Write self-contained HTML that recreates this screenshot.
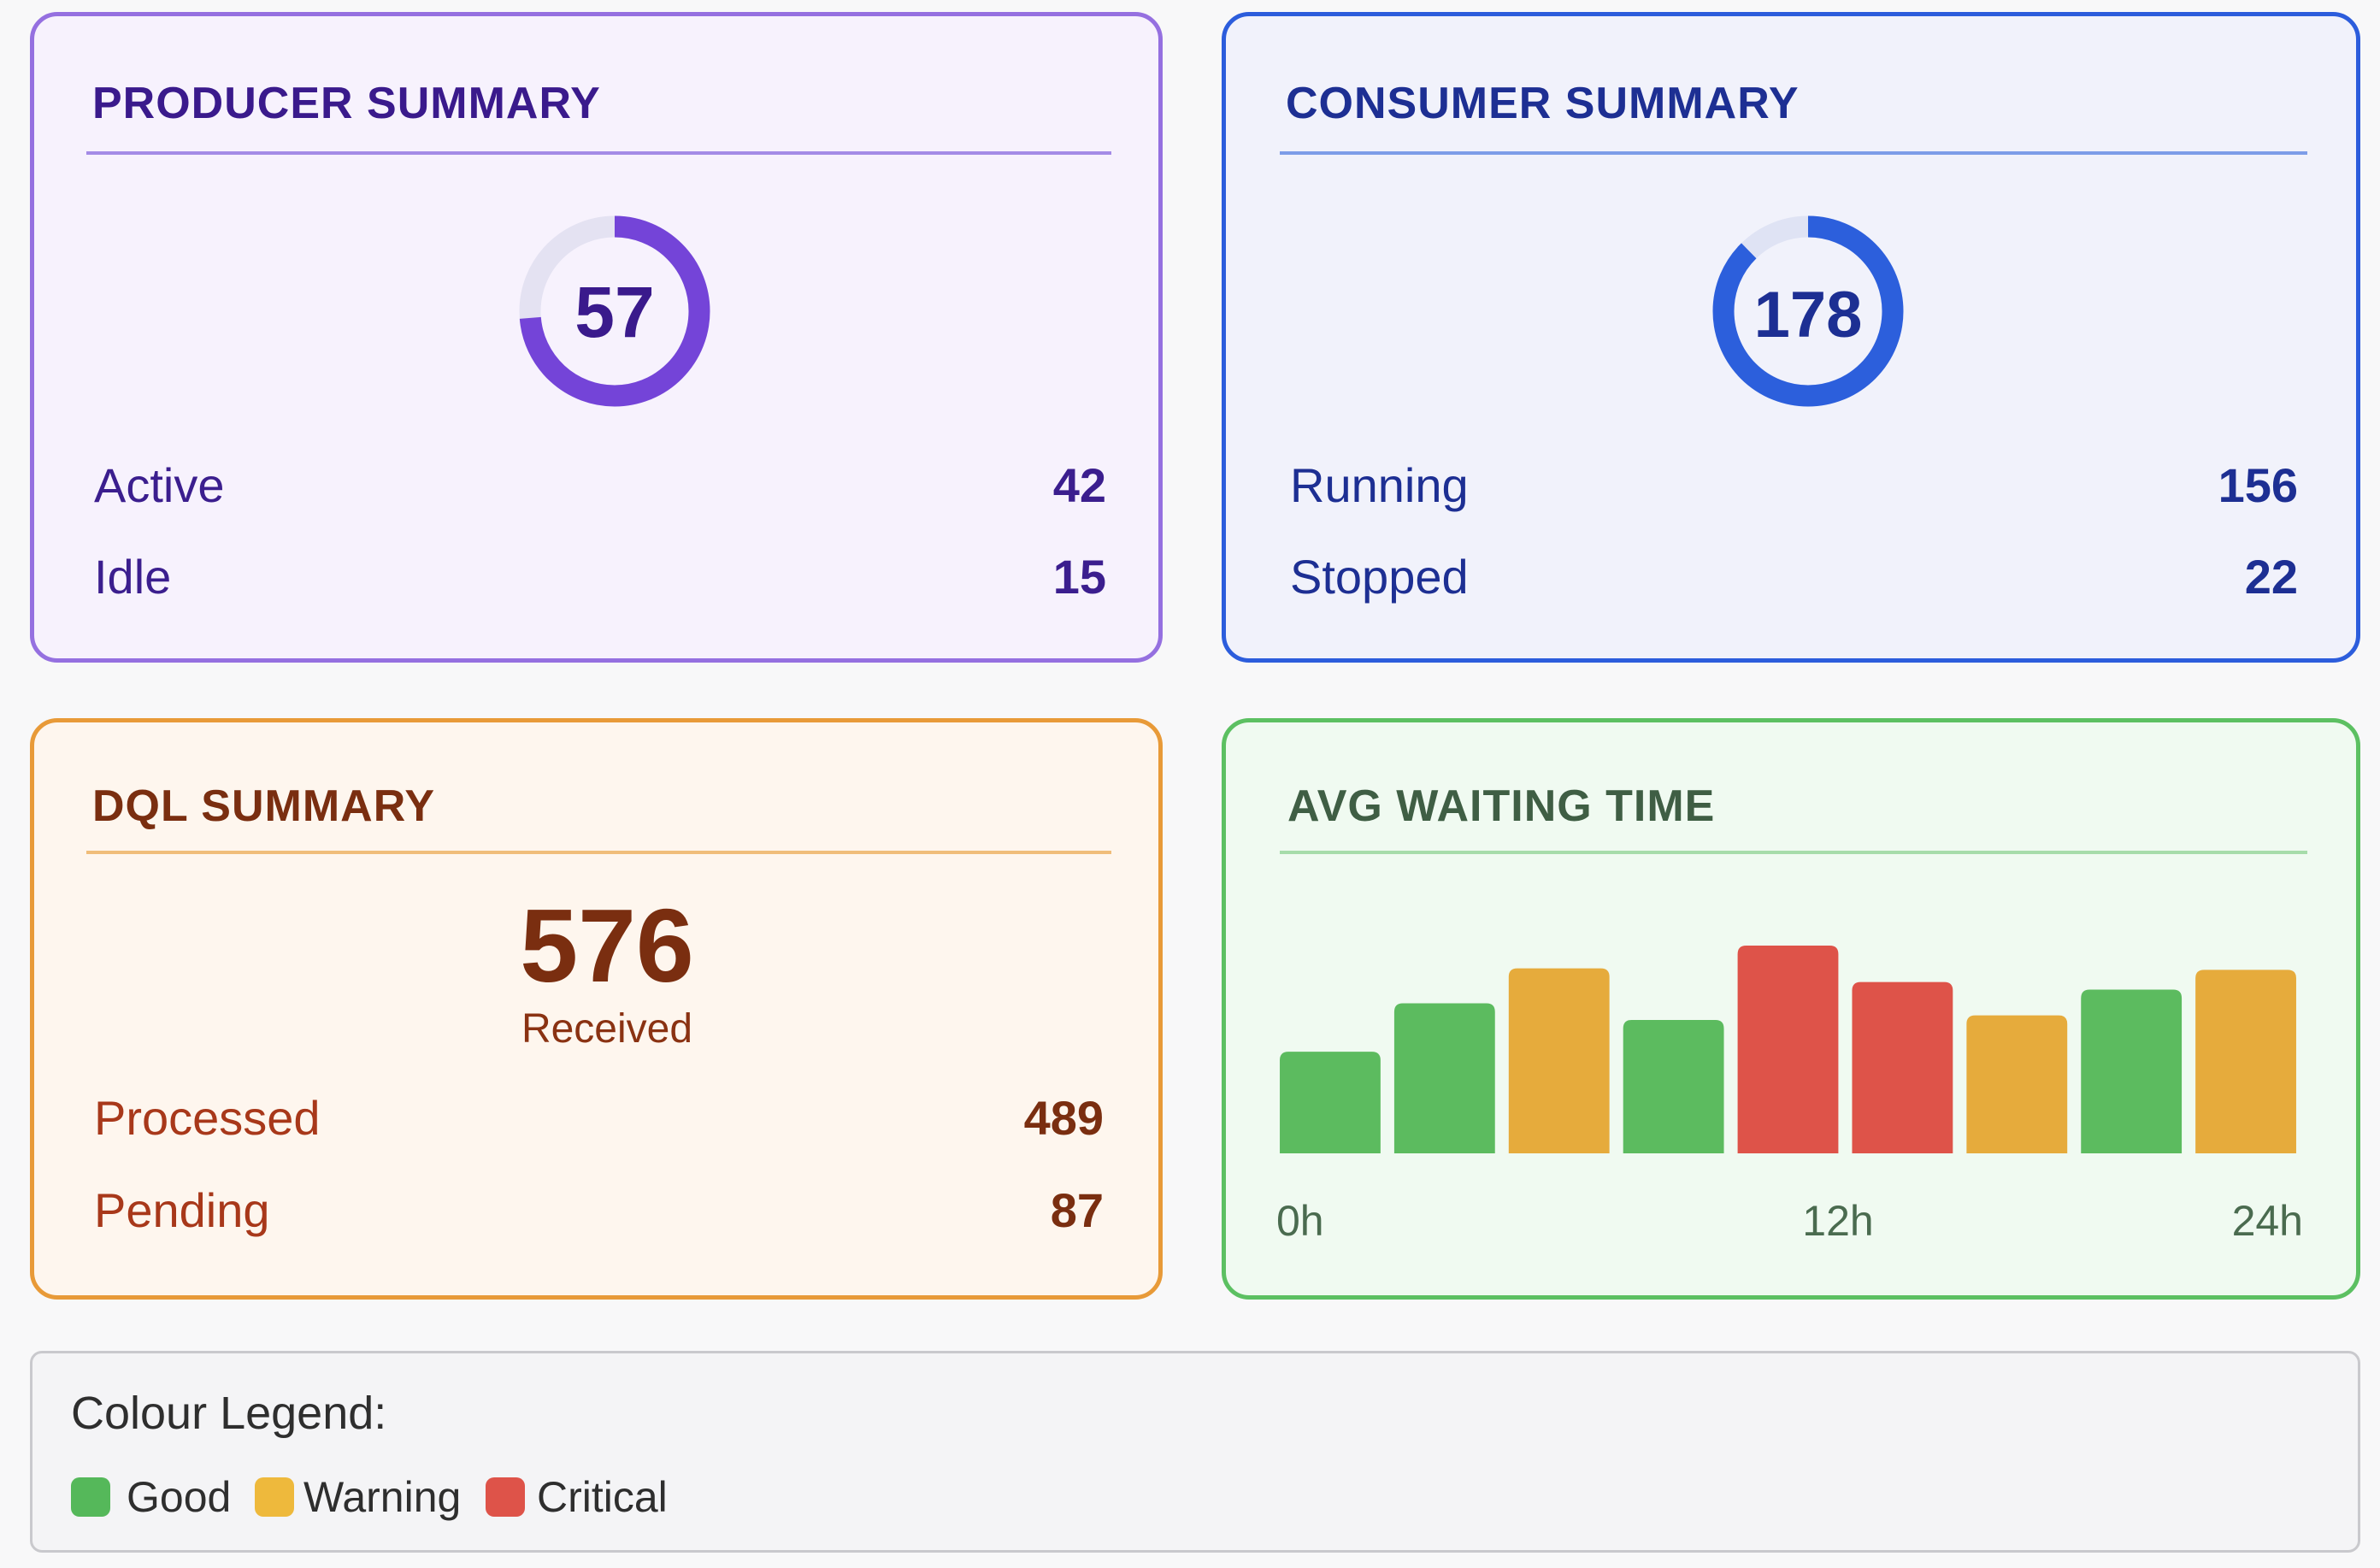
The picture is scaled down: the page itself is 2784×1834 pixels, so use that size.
<!DOCTYPE html>
<html><head><meta charset="utf-8"><style>
body{margin:0;width:2784px;height:1834px;background:#f8f8f9;font-family:"Liberation Sans",sans-serif;position:relative;overflow:hidden}
.card{position:absolute;box-sizing:border-box;border:5px solid;border-radius:32px}
.t{position:absolute;font-weight:bold;font-size:52px;letter-spacing:1px;line-height:1}
.div{position:absolute;height:4px}
.lab{position:absolute;font-size:56px;line-height:1}
.val{position:absolute;font-size:56px;font-weight:bold;line-height:1;text-align:right}
</style></head><body>
<div class="card" style="left:35px;top:14px;width:1325px;height:761px;background:#f7f2fd;border-color:#9570e0"></div>
<div class="t" style="left:108px;top:95px;color:#3a1a8c">PRODUCER SUMMARY</div>
<div class="div" style="left:101px;top:177px;width:1199px;background:#a48be6"></div>
<svg style="position:absolute;left:599px;top:244px" width="240" height="240">
<circle cx="120" cy="120" r="99" fill="none" stroke="#e4e2f2" stroke-width="25"/>
<circle cx="120" cy="120" r="99" fill="none" stroke="#7444d8" stroke-width="25" stroke-dasharray="458.4 622" transform="rotate(-90 120 120)"/>
<text x="120" y="150" text-anchor="middle" font-family="Liberation Sans" font-weight="bold" font-size="84" fill="#3a1a8c">57</text></svg>
<div class="lab" style="left:110px;top:540px;color:#3b1e8e">Active</div>
<div class="val" style="right:1490px;top:540px;color:#3b1e8e">42</div>
<div class="lab" style="left:110px;top:647px;color:#3b1e8e">Idle</div>
<div class="val" style="right:1490px;top:647px;color:#3b1e8e">15</div>

<div class="card" style="left:1429px;top:14px;width:1332px;height:761px;background:#f1f2fb;border-color:#2c5ddc"></div>
<div class="t" style="left:1504px;top:95px;color:#1d2f93">CONSUMER SUMMARY</div>
<div class="div" style="left:1497px;top:177px;width:1202px;background:#7d9de8"></div>
<svg style="position:absolute;left:1995px;top:244px" width="240" height="240">
<circle cx="120" cy="120" r="99" fill="none" stroke="#dfe3f4" stroke-width="25"/>
<circle cx="120" cy="120" r="99" fill="none" stroke="#2c5fdc" stroke-width="25" stroke-dasharray="545.1 622" transform="rotate(-90 120 120)"/>
<text x="120" y="150" text-anchor="middle" font-family="Liberation Sans" font-weight="bold" font-size="76" fill="#1d2f93">178</text></svg>
<div class="lab" style="left:1509px;top:540px;color:#1d2f93">Running</div>
<div class="val" style="right:96px;top:540px;color:#1d2f93">156</div>
<div class="lab" style="left:1509px;top:647px;color:#1d2f93">Stopped</div>
<div class="val" style="right:96px;top:647px;color:#1d2f93">22</div>

<div class="card" style="left:35px;top:840px;width:1325px;height:680px;background:#fef6ee;border-color:#e89a38"></div>
<div class="t" style="left:108px;top:917px;color:#7a2e10">DQL SUMMARY</div>
<div class="div" style="left:101px;top:995px;width:1199px;background:#f0bd7a"></div>
<div style="position:absolute;left:510px;width:400px;text-align:center;top:1045px;font-size:122px;font-weight:bold;color:#7a2e10;line-height:1">576</div>
<div style="position:absolute;left:510px;width:400px;text-align:center;top:1180px;font-size:48px;color:#8a3212;line-height:1">Received</div>
<div class="lab" style="left:110px;top:1280px;color:#a8381a">Processed</div>
<div class="val" style="right:1493px;top:1280px;color:#7a2e10">489</div>
<div class="lab" style="left:110px;top:1388px;color:#a8381a">Pending</div>
<div class="val" style="right:1493px;top:1388px;color:#7a2e10">87</div>

<div class="card" style="left:1429px;top:840px;width:1332px;height:680px;background:#f0faf1;border-color:#5cc062"></div>
<div class="t" style="left:1506px;top:917px;color:#3f5e44">AVG WAITING TIME</div>
<div class="div" style="left:1497px;top:995px;width:1202px;background:#a6dcaa"></div>
<svg id="chart" style="position:absolute;left:0;top:0" width="2784" height="1834"></svg>

<div class="card" style="left:35px;top:1580px;width:2726px;height:236px;background:#f4f4f6;border:3px solid #c9c9cd;border-radius:14px"></div>
<div style="position:absolute;left:83px;top:1626px;font-size:54px;color:#2e2e2e;line-height:1">Colour Legend:</div>
<div style="position:absolute;left:83px;top:1728px;width:46px;height:46px;border-radius:10px;background:#55b85a"></div>
<div style="position:absolute;left:148px;top:1726px;font-size:50px;color:#2e2e2e;line-height:1">Good</div>
<div style="position:absolute;left:298px;top:1728px;width:46px;height:46px;border-radius:10px;background:#eeb93c"></div>
<div style="position:absolute;left:355px;top:1726px;font-size:50px;color:#2e2e2e;line-height:1">Warning</div>
<div style="position:absolute;left:568px;top:1728px;width:46px;height:46px;border-radius:10px;background:#de5349"></div>
<div style="position:absolute;left:628px;top:1726px;font-size:50px;color:#2e2e2e;line-height:1">Critical</div>

<script>
const hours=["0h","3h","6h","9h","12h","15h","18h","21h","24h"];
const waitValues=[6.7,9.9,12.2,8.8,13.7,11.3,9.1,10.8,12.1];
const statuses=["good","good","warning","good","critical","critical","warning","good","warning"];
const tickLabels=["0h","12h","24h"];
const colors={good:"#5cbb5f",warning:"#e6ab3c",critical:"#de5349"};
const x0=1489,x1=2694,yBase=1349,yTop=1083,yMax=15;
const pitch=(x1-x0)/hours.length,bw=pitch*0.88;
const xs=i=>x0+i*pitch+(pitch-bw)/2;
const ys=v=>yBase-(v/yMax)*(yBase-yTop);
const svg=document.getElementById('chart'),NS="http://www.w3.org/2000/svg";
waitValues.forEach((v,i)=>{
 const r=document.createElementNS(NS,'path');
 const x=xs(i),y=ys(v),w=bw,rr=10;
 r.setAttribute('d',`M${x},${yBase}V${y+rr}Q${x},${y} ${x+rr},${y}H${x+w-rr}Q${x+w},${y} ${x+w},${y+rr}V${yBase}Z`);
 r.setAttribute('fill',colors[statuses[i]]);
 
 
 svg.appendChild(r);
});
const anchors=["start","middle","end"],tx=[x0+4,2150,x1];
tickLabels.forEach((t,i)=>{
 const e=document.createElementNS(NS,'text');
 e.setAttribute('x',tx[i]);e.setAttribute('y',1445);
 e.setAttribute('text-anchor',anchors[i]);
 e.setAttribute('font-family','Liberation Sans');e.setAttribute('font-size','50');
 e.setAttribute('fill','#4a6b4f');
 e.textContent=t;
 
 
 svg.appendChild(e);
});
</script>
</body></html>
